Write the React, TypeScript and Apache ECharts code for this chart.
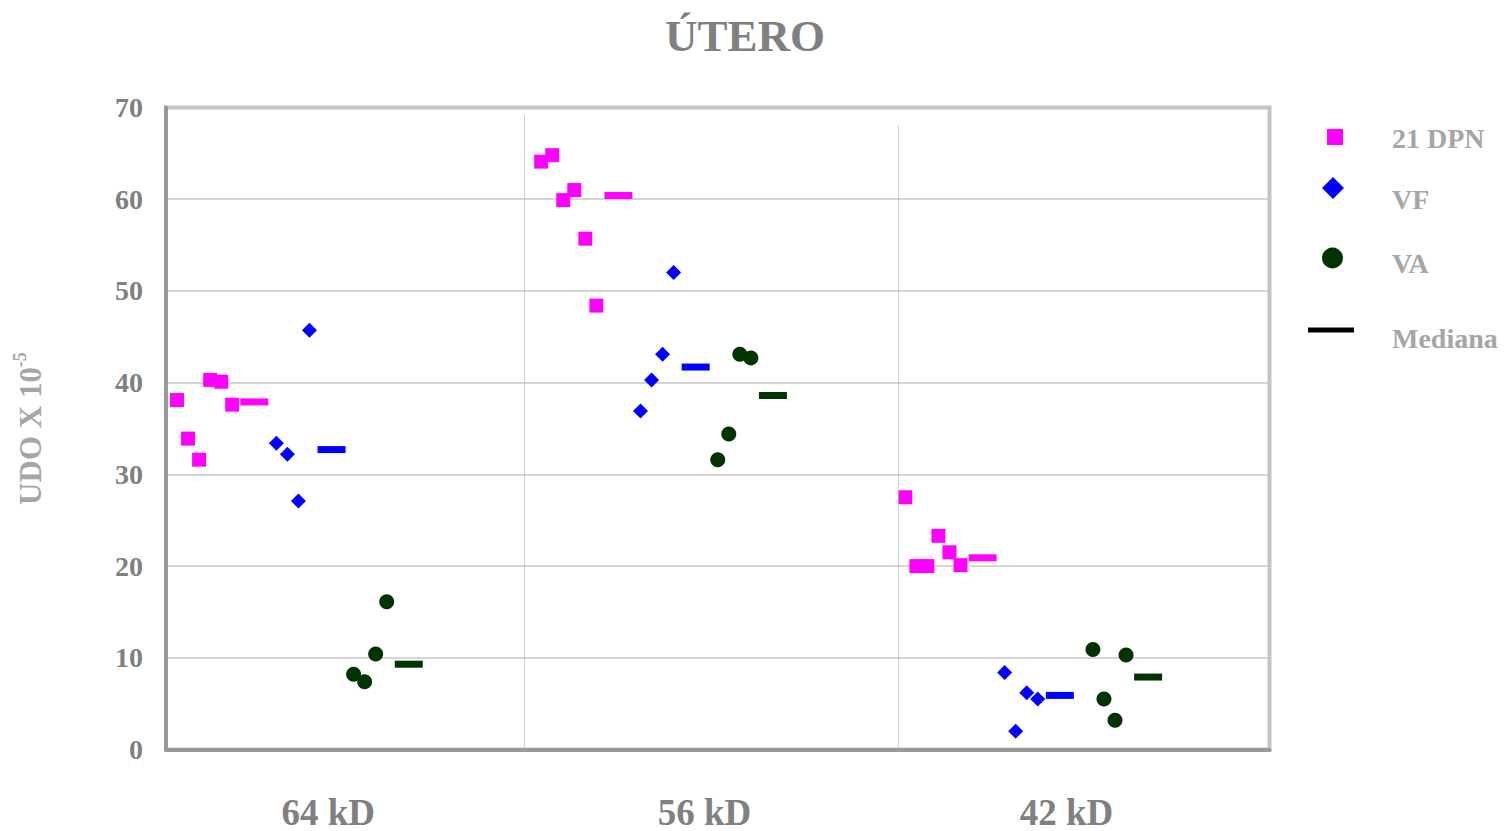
import React, { useEffect, useRef } from 'react';
import * as echarts from 'echarts';

// ---- data ----
const categories = ['64 kD', '56 kD', '42 kD'];
const seriesNames = ['21 DPN', 'VF', 'VA', 'Mediana'];
const dpn21 = [
  [38.1, 33.9, 31.6, 40.3, 40.1, 37.6],
  [64.1, 64.8, 59.9, 61.0, 55.7, 48.4],
  [27.5, 20.0, 20.0, 23.3, 21.5, 20.1],
];
const vf = [
  [33.4, 32.2, 27.1, 45.7],
  [36.9, 40.3, 43.1, 52.0],
  [8.4, 2.0, 6.2, 5.5],
];
const va = [
  [8.2, 7.4, 10.4, 16.1],
  [31.6, 34.4, 43.1, 42.7],
  [10.9, 5.5, 3.2, 10.3],
];
const medDpn = [37.9, 60.4, 20.9];
const medVf = [32.7, 41.7, 5.9];
const medVa = [9.3, 38.6, 7.9];
const yMin = 0;
const yMax = 70;
const yStep = 10;

// ---- layout (positions along a hidden 0..100 x scale) ----
const groupBase = [1, 34, 67];
const vfOffset = 9;
const vaOffset = [16, 16, 17];
const medOffset = [7, 14];
const vaMedOffset = [21, 21, 22];
const catLabelPos = [14.7, 48.8, 81.6];
const separators = [
  [32.5, 69.2],
  [66.4, 68.1],
];

const SERIF = "'Liberation Serif', 'Times New Roman', serif";
const PINK = '#ff00ff';
const BLUE = '#0000ff';
const GREEN = '#003300';

function legendEntry(
  name: string,
  icon: string,
  color: string,
  left: number,
  top: number,
  w: number,
  h: number,
  textPad: number,
  drop: number
) {
  return {
    data: [{ name, icon, itemStyle: { color, opacity: 1 } }],
    left,
    top,
    padding: 0,
    itemWidth: w,
    itemHeight: h,
    selectedMode: false,
    formatter: (n: string) => `{s| }\n{t|${n}}`,
    textStyle: {
      fontFamily: SERIF,
      fontWeight: 'bold',
      fontSize: 28,
      color: '#a6a6a6',
      rich: {
        s: { fontSize: 2, lineHeight: drop * 2 },
        t: {
          fontFamily: SERIF,
          fontWeight: 'bold',
          fontSize: 28,
          color: '#a6a6a6',
          lineHeight: 30,
          padding: [0, 0, 0, textPad],
        },
      },
    },
  };
}

export default function App() {
  const ref = useRef<HTMLDivElement>(null);

  useEffect(() => {
    if (!ref.current) return;
    const chart = echarts.init(ref.current, undefined, { renderer: 'svg' });

    const dpnData: number[][] = [];
    const vfData: number[][] = [];
    const vaData: number[][] = [];
    const medData: any[] = [];
    categories.forEach((_, g) => {
      const b = groupBase[g];
      dpn21[g].forEach((v, i) => dpnData.push([b + i, v]));
      vf[g].forEach((v, i) => vfData.push([b + vfOffset + i, v]));
      va[g].forEach((v, i) => vaData.push([b + vaOffset[g] + i, v]));
      medData.push({ value: [b + medOffset[0], medDpn[g]], itemStyle: { color: PINK, opacity: 1 } });
      medData.push({ value: [b + medOffset[1], medVf[g]], itemStyle: { color: BLUE, opacity: 1 } });
      medData.push({ value: [b + vaMedOffset[g], medVa[g]], itemStyle: { color: GREEN, opacity: 1 } });
    });

    chart.setOption({
      animation: false,
      backgroundColor: '#ffffff',
      title: {
        text: 'ÚTERO',
        left: 665,
        top: 13,
        padding: 0,
        textStyle: { fontFamily: SERIF, fontWeight: 'bold', fontSize: 45, color: '#808080' },
      },
      grid: {
        left: 166,
        right: 238.5,
        top: 107.5,
        bottom: 81.5,
        show: true,
        borderColor: '#c4c4c4',
        borderWidth: 4,
      },
      legend: [
        legendEntry(seriesNames[0], 'rect', PINK, 1327, 121, 16, 16, 44, 1),
        legendEntry(seriesNames[1], 'diamond', BLUE, 1322, 172, 22, 22, 43, 11),
        legendEntry(seriesNames[2], 'circle', GREEN, 1322, 242, 21, 23, 44, 5),
        legendEntry(seriesNames[3], 'rect', '#000000', 1308, 314, 46, 5, 33, 8),
      ],
      xAxis: {
        type: 'value',
        min: 0,
        max: 100,
        axisLine: { show: true, lineStyle: { color: '#999999', width: 4 } },
        axisTick: { show: false },
        splitLine: { show: false },
        axisLabel: {
          customValues: catLabelPos,
          margin: 46,
          fontFamily: SERIF,
          fontWeight: 'bold',
          fontSize: 37,
          lineHeight: 33,
          color: '#808080',
          formatter: (v: number) => {
            const i = catLabelPos.findIndex((p) => Math.abs(p - v) < 0.01);
            return i >= 0 ? categories[i] : '';
          },
        },
      },
      yAxis: {
        type: 'value',
        min: yMin,
        max: yMax,
        interval: yStep,
        name: 'UDO X 10{sup|-5}',
        nameLocation: 'middle',
        nameRotate: 90,
        nameGap: 117,
        nameTextStyle: {
          fontFamily: SERIF,
          fontWeight: 'bold',
          fontSize: 31,
          color: '#a6a6a6',
          lineHeight: 38,
          rich: {
            sup: {
              fontFamily: SERIF,
              fontWeight: 'bold',
              fontSize: 18,
              color: '#a6a6a6',
              verticalAlign: 'top',
              lineHeight: 38,
            },
          },
        },
        axisLine: { show: true, lineStyle: { color: '#999999', width: 4 } },
        axisTick: { show: false },
        splitLine: { show: true, lineStyle: { color: '#c8c8c8', width: 1.5 } },
        axisLabel: {
          margin: 23,
          fontFamily: SERIF,
          fontWeight: 'bold',
          fontSize: 28,
          color: '#808080',
        },
      },
      series: [
        {
          name: seriesNames[0],
          type: 'scatter',
          symbol: 'rect',
          symbolSize: 14,
          itemStyle: { color: PINK, opacity: 1 },
          data: dpnData,
          markLine: {
            silent: true,
            symbol: ['none', 'none'],
            label: { show: false },
            lineStyle: { type: 'dotted', color: '#a8a8a8', width: 1 },
            data: separators.map(([x, top]) => [{ coord: [x, 0] }, { coord: [x, top] }]),
          },
        },
        {
          name: seriesNames[1],
          type: 'scatter',
          symbol: 'diamond',
          symbolSize: 15,
          itemStyle: { color: BLUE, opacity: 1 },
          data: vfData,
        },
        {
          name: seriesNames[2],
          type: 'scatter',
          symbol: 'circle',
          symbolSize: 15,
          itemStyle: { color: GREEN, opacity: 1 },
          data: vaData,
        },
        {
          name: seriesNames[3],
          type: 'scatter',
          symbol: 'rect',
          symbolSize: [28, 7],
          itemStyle: { color: '#000000', opacity: 1 },
          data: medData,
        },
      ],
    });

    return () => chart.dispose();
  }, []);

  return (
    <div
      ref={ref}
      style={{ position: 'absolute', left: 0, top: 0, width: 1508, height: 831 }}
    />
  );
}
